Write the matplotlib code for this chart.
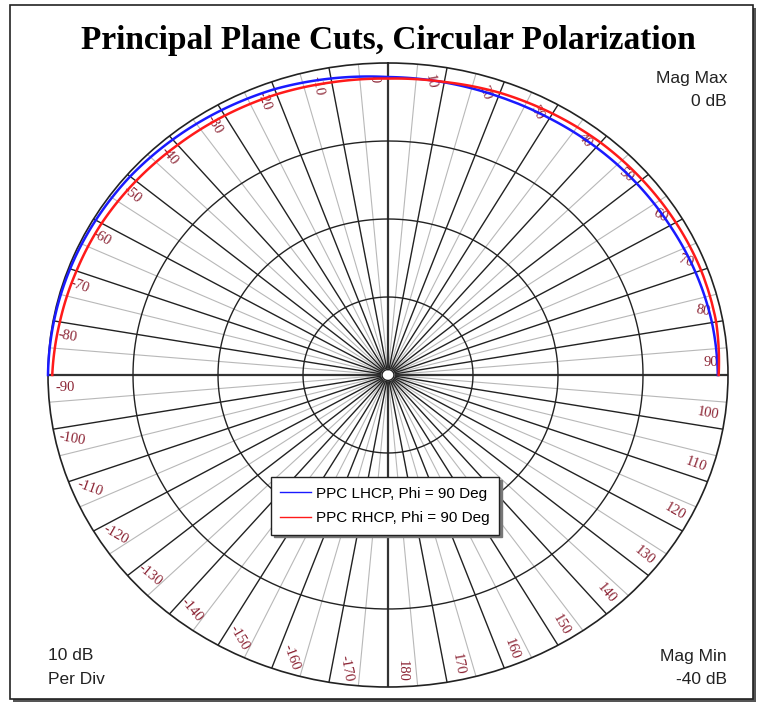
import numpy as np
import matplotlib
matplotlib.use("Agg")
import matplotlib.pyplot as plt
from matplotlib.patches import Rectangle

# pattern cut, theta in degrees (0 = boresight, clockwise positive)
theta_deg = [-90, -80, -70, -60, -50, -40, -30, -20, -10, 0,
             10, 20, 30, 40, 50, 60, 70, 80, 90]
lhcp_db = [0.0, -0.1, -0.2, -0.3, -0.4, -0.6, -0.8, -1.0, -1.4, -1.8,
           -1.9, -2.0, -2.0, -1.9, -1.8, -1.7, -1.5, -1.3, -1.2]
rhcp_db = [-0.5, -0.8, -1.0, -1.1, -1.3, -1.5, -1.6, -1.7, -1.9, -2.0,
           -1.85, -1.5, -1.3, -1.1, -1.0, -0.9, -0.8, -0.8, -1.1]

series_names = ["PPC LHCP, Phi = 90 Deg", "PPC RHCP, Phi = 90 Deg"]
mag_max, mag_min = 0, -40
ring_levels = [-10, -20, -30]
angle_labels = list(range(-170, 190, 10))

W, H = 761, 707
fig = plt.figure(figsize=(W / 100, H / 100), dpi=100)

# outer frame with drop shadow
fig.patches.append(Rectangle((13 / W, 1 - 702 / H), 743 / W, 694 / H,
                             transform=fig.transFigure, facecolor="#555555",
                             edgecolor="none", zorder=-3))
fig.patches.append(Rectangle((10 / W, 1 - 699 / H), 743 / W, 694 / H,
                             transform=fig.transFigure, facecolor="white",
                             edgecolor="#222222", lw=1.2, zorder=-2))

cx, cy, rx, ry = 388, 375, 340, 312
ax = fig.add_axes([(cx - rx) / W, 1 - (cy + ry) / H, 2 * rx / W, 2 * ry / H],
                  projection="polar")
ax.set_aspect("auto")
ax.set_theta_zero_location("N")
ax.set_theta_direction(-1)
ax.set_rlim(mag_min, mag_max)
ax.set_xticks([])
ax.set_yticks([])
ax.grid(False)
ax.spines["polar"].set_color("#222222")
ax.spines["polar"].set_linewidth(1.2)
ax.patch.set_alpha(0)

full = np.radians(np.linspace(0, 360, 721))
r_hole = -39.3

# spokes
for a in range(-180, 180, 5):
    t = np.radians(a)
    if a % 90 == 0:
        ax.plot([t, t], [r_hole, 0], color="#333333", lw=1.6, zorder=2)
    elif a % 10 == 0:
        ax.plot([t, t], [r_hole, 0], color="#222222", lw=1.0, zorder=2)
    else:
        ax.plot([t, t], [r_hole, 0], color="#b8b8b8", lw=0.8, zorder=1)

for lev in ring_levels:
    ax.plot(full, np.full_like(full, lev), color="#222222", lw=1.0, zorder=2)

# small hole at centre
ax.fill(full, np.full_like(full, r_hole), color="white", zorder=3)
ax.plot(full, np.full_like(full, r_hole), color="#222222", lw=1.0, zorder=3)

# angle labels
for a in angle_labels:
    rot = -abs(90 - abs(a))
    ax.text(np.radians(a - 2.5), -2.0, str(a), color="#8b2333",
            family="Liberation Serif", fontsize=10.5, rotation=rot,
            rotation_mode="anchor", ha="center", va="center", zorder=4)

th = np.radians(theta_deg)
l1, = ax.plot(th, lhcp_db, color="#1a1aff", lw=1.8, clip_on=False, zorder=5)
l2, = ax.plot(th, rhcp_db, color="#ff1a1a", lw=1.8, clip_on=False, zorder=5)
for ln in (l1, l2):
    # follow the polar arc between samples instead of straight chords
    ln.get_path()._interpolation_steps = 40

leg = fig.legend([l1, l2], series_names, loc="center",
                 bbox_to_anchor=(385 / W, 1 - 506 / H), fancybox=False,
                 shadow={"color": "#777777", "alpha": 1}, framealpha=1,
                 edgecolor="#222222", handlelength=2.0, handletextpad=0.35,
                 borderpad=0.6, labelspacing=0.7, borderaxespad=0,
                 prop={"family": "Liberation Sans", "size": 11})
for h in leg.legend_handles:
    h.set_linewidth(1.0)
leg.get_frame().set_linewidth(1.0)

fig.text(388 / W, 1 - 40 / H, "Principal Plane Cuts, Circular Polarization",
         ha="center", va="center", family="Liberation Serif",
         fontweight="bold", fontsize=24)

corner = {"family": "Liberation Sans", "fontsize": 12.5, "color": "#222222"}
fig.text(727 / W, 1 - 78 / H, "Mag Max", ha="right", va="center", **corner)
fig.text(727 / W, 1 - 101 / H, "0 dB", ha="right", va="center", **corner)
fig.text(48 / W, 1 - 656 / H, "10 dB", ha="left", va="center", **corner)
fig.text(48 / W, 1 - 680 / H, "Per Div", ha="left", va="center", **corner)
fig.text(727 / W, 1 - 657 / H, "Mag Min", ha="right", va="center", **corner)
fig.text(727 / W, 1 - 680 / H, "-40 dB", ha="right", va="center", **corner)

fig.savefig("out.png", dpi=100)
